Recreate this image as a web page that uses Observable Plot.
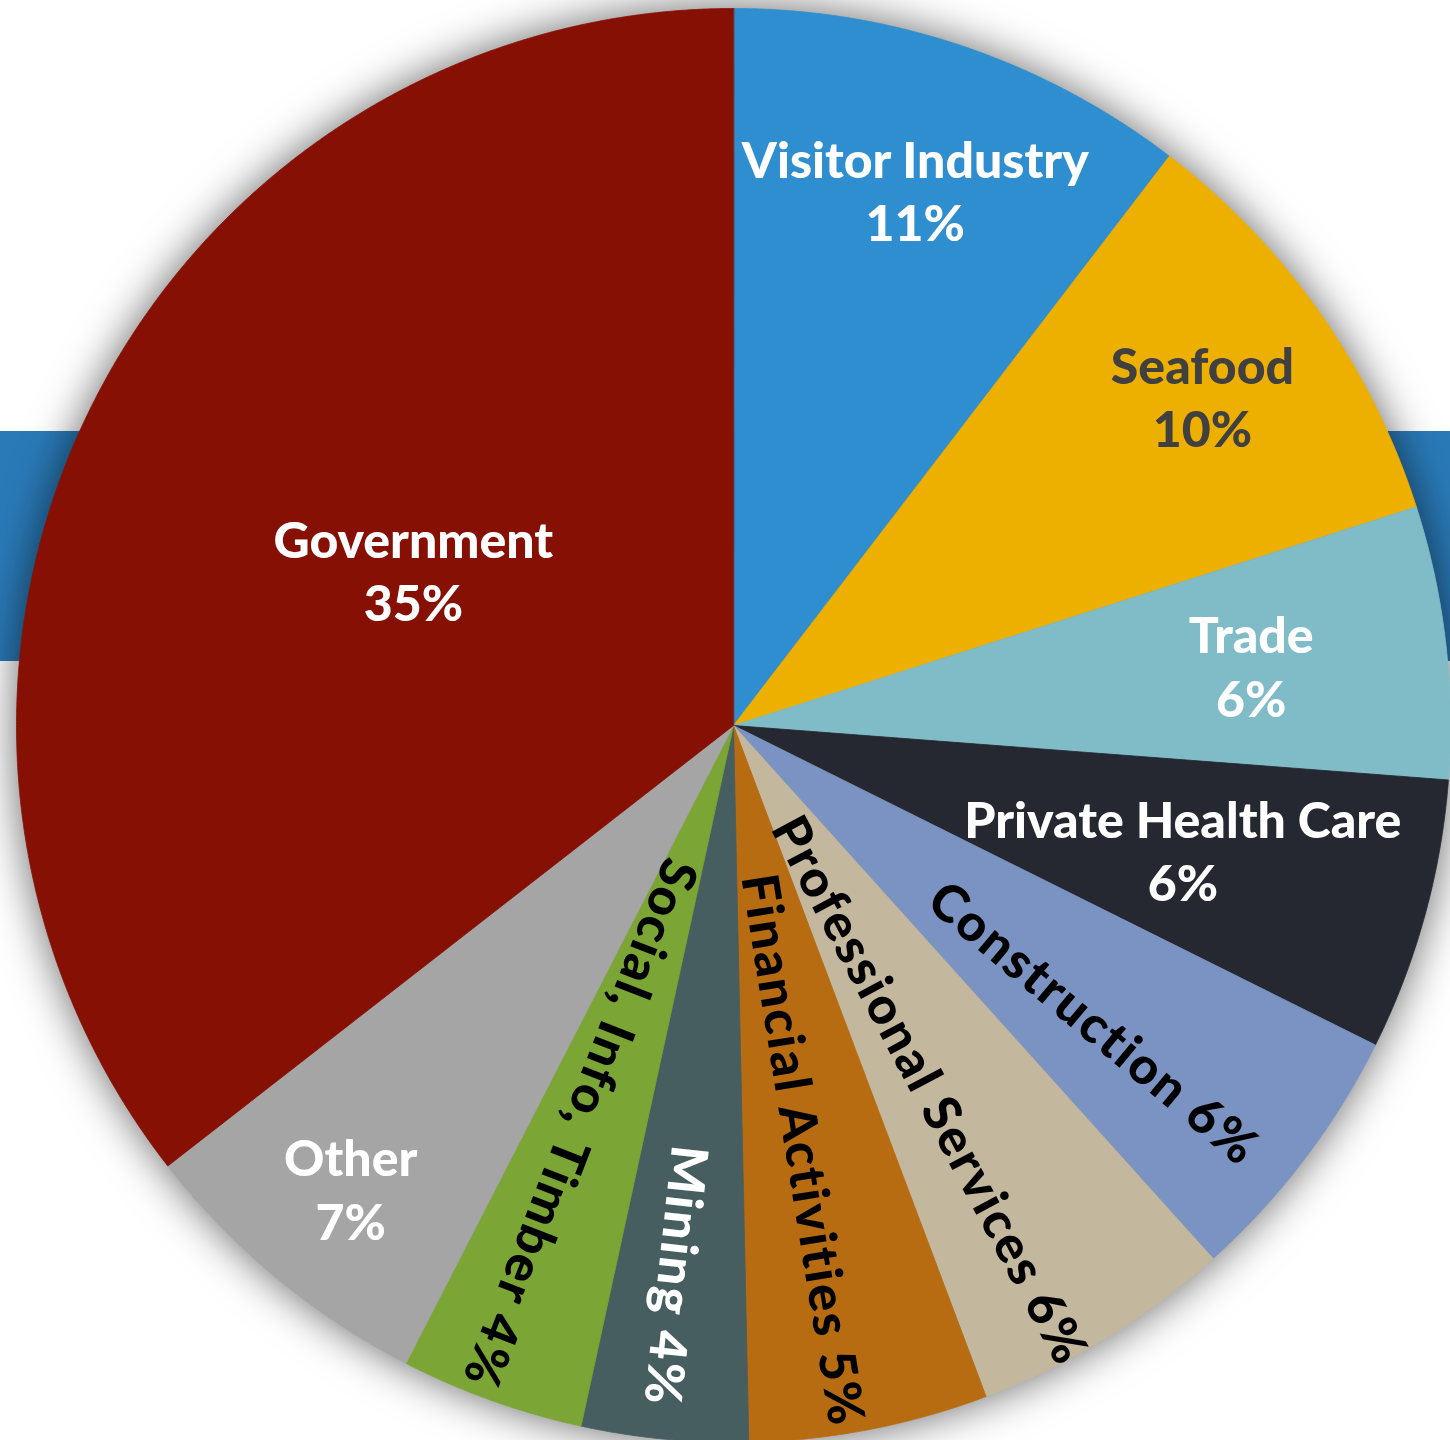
<!DOCTYPE html>
<html><head><meta charset="utf-8">
<script src="https://cdn.jsdelivr.net/npm/d3@7"></script>
<script src="https://cdn.jsdelivr.net/npm/@observablehq/plot@0.6"></script>
<style>
  html,body{margin:0;padding:0;background:#fff;overflow:hidden}
</style>
</head><body><div id="chart"></div>
<script>
// ---- data ----
const sectors = ["Visitor Industry","Seafood","Trade","Private Health Care","Construction",
  "Professional Services","Financial Activities","Mining","Social, Info, Timber","Other","Government"];
const shares = [10.4, 9.67, 6.14, 6.14, 5.99, 5.93, 5.39, 3.75, 4.14, 6.92, 35.53];
const percentLabels = ["11%","10%","6%","6%","6%","6%","5%","4%","4%","7%","35%"];
const sliceColors = ["#2F8ECF","#EEB000","#7FBCC8","#252830","#7B93C2","#C3B89D","#B86C12","#475E61","#7BA535","#A5A5A5","#861003"];
const labelColors = ["#ffffff","#404040","#ffffff","#ffffff","#000000","#000000","#000000","#ffffff","#000000","#ffffff","#ffffff"];

// ---- layout ----
const labelRadius = [0.79, 0.80, 0.727, 0.65, 0.652, 0.578, 0.60, 0.772, 0.595, 0.837, 0.497];
const labelTurn   = [0, 0, 0, 0, 2.5, 3.2, 1.8, 0.6, 1.5, 0, 0]; // degrees
const radialLabel = [false,false,false,false,true,true,true,true,true,false,false];

const rows = sectors.map((name,i)=>({name, share:shares[i], pct:percentLabels[i], color:sliceColors[i],
  textColor:labelColors[i], r:labelRadius[i], turn:labelTurn[i], radial:radialLabel[i]}));
const arcs = d3.pie().sort(null).value(d=>d.share).startAngle(0).endAngle(2*Math.PI)(rows);

const polys = [];
for (const a of arcs) {
  polys.push({name:a.data.name, color:a.data.color, x:0, y:0});
  const n = Math.max(2, Math.ceil((a.endAngle - a.startAngle) / 0.004));
  for (let k=0;k<=n;k++){
    const t = a.startAngle + (a.endAngle - a.startAngle)*k/n;
    polys.push({name:a.data.name, color:a.data.color, x:Math.sin(t), y:Math.cos(t)});
  }
}
const labels = arcs.map(a=>{
  const d = a.data;
  const m = (a.startAngle + a.endAngle)/2 + d.turn*Math.PI/180;
  return {
    x: d.r*Math.sin(m), y: d.r*Math.cos(m),
    text: d.radial ? `${d.name} ${d.pct}` : `${d.name}\n${d.pct}`,
    rotate: d.radial ? m*180/Math.PI - 90 : 0,
    radial: d.radial,
    color: d.textColor
  };
});

const chart = Plot.plot({
  width:1450, height:1440, margin:0,
  style:{background:"linear-gradient(to bottom, #ffffff 0px, #ffffff 431px, #2A7AB8 431px, #2A7AB8 661px, #ffffff 661px)", fontFamily:"Lato, sans-serif"},
  x:{domain:[-1,1], range:[16,1450], axis:null},
  y:{domain:[-1,1], range:[1442,8], axis:null},
  color:{type:"identity"},
  marks:[
    Plot.line(polys, {x:"x", y:"y", z:"name", fill:"color", stroke:"color", strokeWidth:0.8, curve:"linear-closed"}),
    Plot.text(labels.filter(d=>!d.radial), {x:"x", y:"y", text:"text", fill:"color",
      fontSize:50, fontWeight:900, fontFamily:"Lato", lineHeight:1.27}),
    Plot.text(labels.filter(d=>d.radial), {x:"x", y:"y", text:"text", fill:"color", rotate:"rotate",
      fontSize:51, fontWeight:900, fontFamily:"Lato"})
  ]
});
document.getElementById("chart").appendChild(chart);
const g = chart.querySelector('g[aria-label="line"]');
if (g) g.style.filter = "drop-shadow(0px 0px 22px rgba(0,0,0,0.6))";
const tg = chart.querySelectorAll('g[aria-label="text"]');
if (tg[1]) tg[1].style.letterSpacing = "2px";
</script>
</body></html>
